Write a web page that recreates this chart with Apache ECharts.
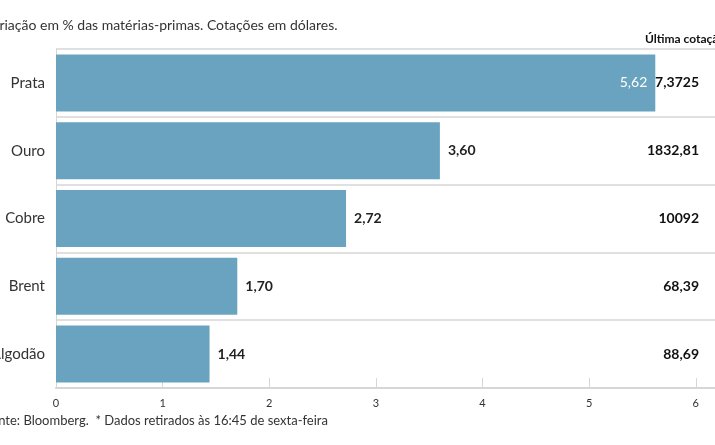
<!DOCTYPE html><html><head><meta charset="utf-8">
<script src="https://cdn.jsdelivr.net/npm/echarts@6/dist/echarts.min.js"></script>
<style>html,body{margin:0;background:#fff}#c{width:715px;height:445px}</style></head><body><div id="c"></div>
<script>
const categories=["Prata","Ouro","Cobre","Brent","Algodão"];
const values=[5.62,3.60,2.72,1.70,1.44];
const quotes=["27,3725","1832,81","10092","68,39","88,69"];
const xTicks=[0,1,2,3,4,5,6];
const F="Lato,'Open Sans',sans-serif";
const chart=echarts.init(document.getElementById('c'));
chart.setOption({
 animation:false,
 grid:{left:56,right:0,top:49,bottom:57,containLabel:false,outerBoundsMode:'none'},
 xAxis:{type:'value',min:0,max:6.18,interval:1,
  axisLine:{show:true,lineStyle:{color:'#d6d6d6',width:2}},
  axisTick:{show:true,inside:true,length:10,lineStyle:{color:'#d6d6d6'}},
  splitLine:{show:false},
  axisLabel:{color:'#333',fontFamily:F,fontSize:11,margin:10,formatter:v=>xTicks.includes(v)?String(v):''}},
 yAxis:[{type:'category',data:categories,inverse:true,
  axisLine:{show:true,lineStyle:{color:'#d6d6d6'}},axisTick:{show:false},
  splitLine:{show:true,lineStyle:{color:'#d6d6d6',width:1.5}},
  axisLabel:{color:'#333',fontFamily:F,fontSize:15,margin:11,align:'right'}},
  {type:'category',data:quotes,inverse:true,position:'right',
  axisLine:{show:false},axisTick:{show:false},
  axisLabel:{color:'#111',fontWeight:'bold',fontFamily:F,fontSize:14,margin:-16,align:'right'}}],
 series:[{type:'bar',data:values.map((v,i)=>({value:v,label:i===0?{position:'insideRight',color:'#fff',fontWeight:'normal'}:{}})),
  barCategoryGap:'16%',itemStyle:{color:'#6aa3bf'},
  label:{show:true,position:'right',distance:8,color:'#222',fontWeight:'bold',fontFamily:F,fontSize:14,formatter:p=>p.value.toFixed(2).replace('.',',')}}],
 graphic:[
  {type:'text',left:-16,top:18,style:{text:'Variação em % das matérias-primas. Cotações em dólares.',font:'14px '+F,fill:'#333'}},
  {type:'text',left:645,top:33,style:{text:'Última cotação*',font:'bold 12px '+F,fill:'#111'}},
  {type:'text',left:-16,top:414,style:{text:'Fonte: Bloomberg.  * Dados retirados às 16:45 de sexta-feira',font:'13px '+F,fill:'#333'}}
 ]
});
</script></body></html>
